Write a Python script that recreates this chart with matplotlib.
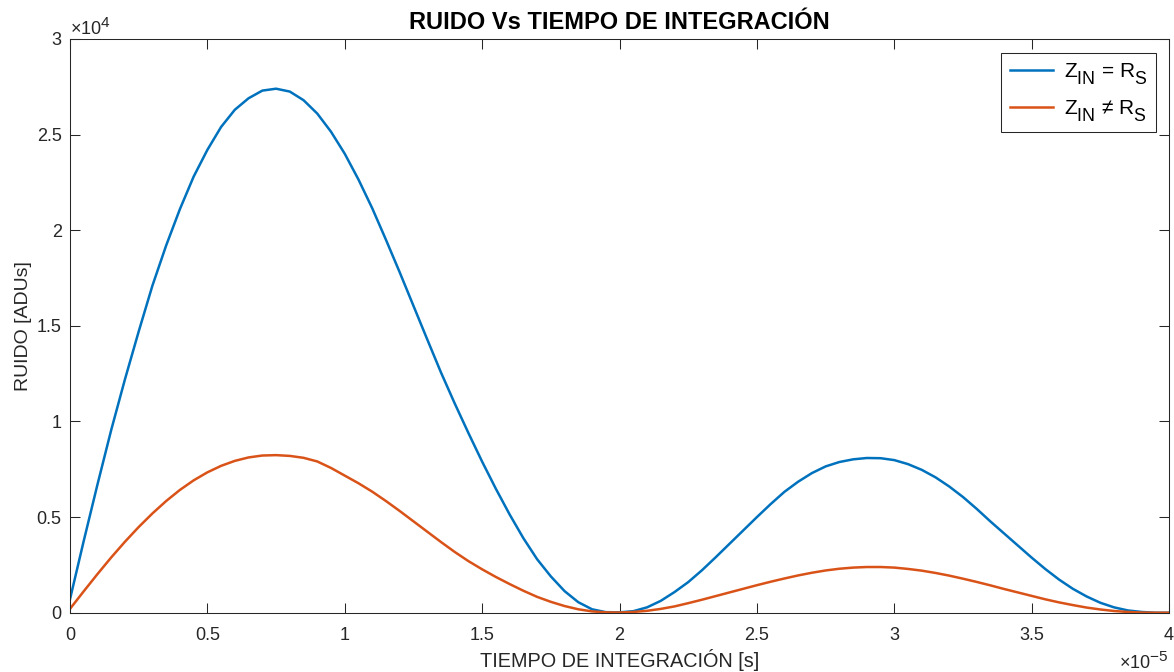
import matplotlib
matplotlib.use("Agg")
import matplotlib.pyplot as plt
import matplotlib._mathtext as mathtext_internal
import numpy as np
from matplotlib.ticker import ScalarFormatter, MultipleLocator

plt.rcParams['font.family'] = ['Liberation Sans', 'DejaVu Sans']
plt.rcParams['mathtext.fontset'] = 'custom'
plt.rcParams['mathtext.rm'] = 'Liberation Sans'
plt.rcParams['mathtext.it'] = 'Liberation Sans'
plt.rcParams['mathtext.bf'] = 'Liberation Sans:bold'
# larger, lower subscripts, closer to TeX-style labels
mathtext_internal.SHRINK_FACTOR = 0.85
mathtext_internal.FontConstantsBase.sub1 = 0.7

# integration time [x 1e-5 s]
t_int = [0.00, 0.05, 0.10, 0.15, 0.20, 0.25, 0.30, 0.35, 0.40, 0.45,
         0.50, 0.55, 0.60, 0.65, 0.70, 0.75, 0.80, 0.85, 0.90, 0.95,
         1.00, 1.05, 1.10, 1.15, 1.20, 1.25, 1.30, 1.35, 1.40, 1.45,
         1.50, 1.55, 1.60, 1.65, 1.70, 1.75, 1.80, 1.85, 1.90, 1.95,
         2.00, 2.05, 2.10, 2.15, 2.20, 2.25, 2.30, 2.35, 2.40, 2.45,
         2.50, 2.55, 2.60, 2.65, 2.70, 2.75, 2.80, 2.85, 2.90, 2.95,
         3.00, 3.05, 3.10, 3.15, 3.20, 3.25, 3.30, 3.35, 3.40, 3.45,
         3.50, 3.55, 3.60, 3.65, 3.70, 3.75, 3.80, 3.85, 3.90, 3.95,
         4.00]

# noise [x 1e4 ADUs], matched input impedance
ruido_adaptado = [0.070, 0.375, 0.670, 0.955, 1.220, 1.470, 1.710, 1.920, 2.110, 2.280,
                  2.420, 2.540, 2.630, 2.690, 2.730, 2.740, 2.725, 2.680, 2.610, 2.515,
                  2.400, 2.265, 2.115, 1.950, 1.780, 1.605, 1.430, 1.257, 1.095, 0.940,
                  0.790, 0.648, 0.514, 0.390, 0.280, 0.190, 0.113, 0.055, 0.018, 0.003,
                  0.002, 0.008, 0.028, 0.062, 0.108, 0.160, 0.222, 0.290, 0.360, 0.430,
                  0.500, 0.568, 0.632, 0.685, 0.730, 0.765, 0.788, 0.802, 0.809, 0.808,
                  0.798, 0.777, 0.747, 0.708, 0.660, 0.605, 0.543, 0.477, 0.414, 0.351,
                  0.288, 0.228, 0.173, 0.125, 0.085, 0.052, 0.028, 0.012, 0.004, 0.000,
                  0.000]

# noise [x 1e4 ADUs], mismatched input impedance
ruido_no_adaptado = [0.020, 0.112, 0.202, 0.289, 0.371, 0.448, 0.519, 0.584, 0.642, 0.692,
                     0.734, 0.768, 0.794, 0.812, 0.822, 0.824, 0.820, 0.810, 0.791, 0.757,
                     0.717, 0.677, 0.633, 0.584, 0.532, 0.478, 0.424, 0.370, 0.318, 0.270,
                     0.227, 0.187, 0.150, 0.115, 0.083, 0.057, 0.035, 0.018, 0.007, 0.002,
                     0.001, 0.004, 0.010, 0.020, 0.033, 0.050, 0.068, 0.087, 0.106, 0.125,
                     0.144, 0.162, 0.179, 0.195, 0.209, 0.221, 0.230, 0.236, 0.239, 0.239,
                     0.236, 0.229, 0.220, 0.208, 0.194, 0.178, 0.161, 0.143, 0.124, 0.106,
                     0.088, 0.070, 0.054, 0.040, 0.027, 0.017, 0.009, 0.004, 0.001, 0.000,
                     0.000]

etiquetas = [r'Z$_{\mathrm{IN}}$ = R$_{\mathrm{S}}$', r'Z$_{\mathrm{IN}}$ ≠ R$_{\mathrm{S}}$']
colores = ['#0072BD', '#D95319']


class MatlabFormatter(ScalarFormatter):
    def _set_format(self):
        self.format = '%g'


eje_color = '#262626'

fig = plt.figure(figsize=(11.74, 6.72), dpi=100)
ax = fig.add_axes([0.0596, 0.0882, 0.9362, 0.8538])

t = np.array(t_int) * 1e-5
ax.plot(t, np.array(ruido_adaptado) * 1e4, color=colores[0], lw=1.8,
        solid_joinstyle='round', label=etiquetas[0])
ax.plot(t, np.array(ruido_no_adaptado) * 1e4, color=colores[1], lw=1.8,
        solid_joinstyle='round', label=etiquetas[1])

ax.set_xlim(0, 4e-5)
ax.set_ylim(0, 3e4)
ax.xaxis.set_major_locator(MultipleLocator(0.5e-5))
ax.yaxis.set_major_locator(MultipleLocator(0.5e4))
for axis in (ax.xaxis, ax.yaxis):
    fmt = MatlabFormatter(useMathText=True)
    fmt.set_powerlimits((0, 0))
    axis.set_major_formatter(fmt)

ax.tick_params(direction='in', length=7, width=0.75, top=True, right=True,
               labelsize=13, colors=eje_color)
ax.tick_params(axis='x', pad=10)
ax.tick_params(axis='y', pad=6)
ax.xaxis.get_offset_text().set_fontsize(13)
ax.yaxis.get_offset_text().set_fontsize(13)
ax.xaxis.OFFSETTEXTPAD = 5
for s in ax.spines.values():
    s.set_color(eje_color)
    s.set_linewidth(0.75)

ax.set_title('RUIDO Vs TIEMPO DE INTEGRACIÓN', fontsize=17, fontweight='bold',
             color='black', pad=7)
ax.set_xlabel('TIEMPO DE INTEGRACIÓN [s]', fontsize=14.3, color=eje_color, labelpad=4)
ax.set_ylabel('RUIDO [ADUs]', fontsize=14, color=eje_color, labelpad=3)

leg = ax.legend(loc='upper right', fontsize=15, fancybox=False, framealpha=1,
                edgecolor=eje_color, handlelength=2.1, handletextpad=0.5,
                borderpad=0.4, labelspacing=0.55, borderaxespad=0.65)
leg.get_frame().set_linewidth(0.75)

fig.savefig('out.png', dpi=100)
